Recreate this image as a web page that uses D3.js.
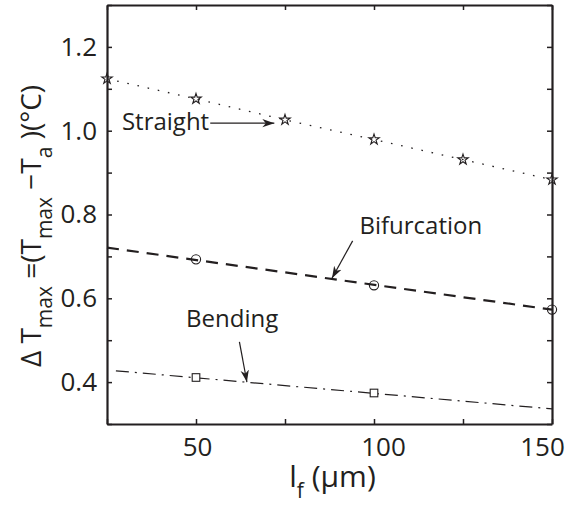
<!DOCTYPE html>
<meta charset="utf-8">
<title>Delta Tmax vs lf</title>
<style>
  body { margin: 0; background: #fff; }
  text { font-family: "Open Sans", sans-serif; fill: #231f20; }
</style>
<svg width="571" height="520"></svg>
<script src="https://d3js.org/d3.v7.min.js"></script>
<script>

// ---- data ----
var xTicks = [25, 50, 75, 100, 125, 150];
var xLabeled = [50, 100, 150];
var xLabelNudge = [1, 9, -10];   // the original's labels sit a little off their ticks
var yTicks = [0.3, 0.4, 0.5, 0.6, 0.7, 0.8, 0.9, 1.0, 1.1, 1.2, 1.3];
var yLabeled = [0.4, 0.6, 0.8, 1.0, 1.2];

// straight: markers at every point, dotted line through them
var straightX = [25, 50, 75, 100, 125, 150];
var straightY = [1.124, 1.076, 1.026, 0.979, 0.931, 0.883];

// bifurcation: circles + dashed fit line
var bifX = [50, 100, 150];
var bifY = [0.693, 0.631, 0.573];
var bifLineX = [25, 150];
var bifLineY = [0.721, 0.573];

// bending: squares + dash-dot fit line
var bendX = [50, 100];
var bendY = [0.411, 0.374];
var bendLineX = [27.5, 150];
var bendLineY = [0.427, 0.336];

// annotations (data units): label anchor, arrow start, arrow tip
var notes = [
  { name: "Straight",    tx: 29.2, ty: 1.002, x1: 54.0, y1: 1.018, x2: 72.0, y2: 1.018 },
  { name: "Bifurcation", tx: 95.9, ty: 0.753, x1: 94.0, y1: 0.737, x2: 88.2, y2: 0.648 },
  { name: "Bending",     tx: 47.2, ty: 0.531, x1: 62.2, y1: 0.496, x2: 64.3, y2: 0.400 }
];

var svg = d3.select("svg");
var ink = "#231f20";

var margin = { left: 107, right: 19, top: 5, bottom: 96 };
var width = 571 - margin.left - margin.right;
var height = 520 - margin.top - margin.bottom;

var x = d3.scaleLinear().domain([25, 150]).range([0, width]);
var y = d3.scaleLinear().domain([0.3, 1.3]).range([height, 0]);

var g = svg.append("g").attr("transform", "translate(" + margin.left + "," + margin.top + ")");

var defs = svg.append("defs");
defs.append("marker")
    .attr("id", "arrow")
    .attr("viewBox", "-12 -5 13 10")
    .attr("refX", 0).attr("refY", 0)
    .attr("markerWidth", 13).attr("markerHeight", 10)
    .attr("markerUnits", "userSpaceOnUse")
    .attr("orient", "auto")
    .append("path")
    .attr("d", "M0,0 L-12,-4.2 L-8.5,0 L-12,4.2 Z")
    .attr("fill", ink);

function zip(xs, ys) {
    return xs.map(function(v, i) { return [v, ys[i]]; });
}

var line = d3.line()
    .x(function(d) { return x(d[0]); })
    .y(function(d) { return y(d[1]); });

// lines
g.append("path")
    .attr("d", line(zip(straightX, straightY)))
    .attr("fill", "none").attr("stroke", ink)
    .attr("stroke-width", 1.3)
    .attr("stroke-dasharray", "1.6,8.8");

g.append("path")
    .attr("d", line(zip(bifLineX, bifLineY)))
    .attr("fill", "none").attr("stroke", ink)
    .attr("stroke-width", 2.2)
    .attr("stroke-dasharray", "12,8");

g.append("path")
    .attr("d", line(zip(bendLineX, bendLineY)))
    .attr("fill", "none").attr("stroke", ink)
    .attr("stroke-width", 1.2)
    .attr("stroke-dasharray", "13,6,2,6");

// markers
g.selectAll(".star")
    .data(zip(straightX, straightY))
    .enter().append("path")
    .attr("class", "star")
    .attr("transform", function(d) { return "translate(" + x(d[0]) + "," + y(d[1]) + ")"; })
    .attr("d", d3.symbol().type(d3.symbolStar).size(34))
    .attr("fill", "none").attr("stroke", ink).attr("stroke-width", 1.1);

g.selectAll(".circ")
    .data(zip(bifX, bifY))
    .enter().append("circle")
    .attr("class", "circ")
    .attr("cx", function(d) { return x(d[0]); })
    .attr("cy", function(d) { return y(d[1]); })
    .attr("r", 4.6)
    .attr("fill", "none").attr("stroke", ink).attr("stroke-width", 1.1);

g.selectAll(".sq")
    .data(zip(bendX, bendY))
    .enter().append("rect")
    .attr("class", "sq")
    .attr("x", function(d) { return x(d[0]) - 3.8; })
    .attr("y", function(d) { return y(d[1]) - 3.8; })
    .attr("width", 7.6).attr("height", 7.6)
    .attr("fill", "#fff").attr("stroke", ink).attr("stroke-width", 1.1);

// annotations
notes.forEach(function(n) {
    g.append("text")
        .attr("x", x(n.tx)).attr("y", y(n.ty))
        .style("font-size", "24px")
        .text(n.name);
    g.append("line")
        .attr("x1", x(n.x1)).attr("y1", y(n.y1))
        .attr("x2", x(n.x2)).attr("y2", y(n.y2))
        .attr("stroke", ink).attr("stroke-width", 1.2)
        .attr("marker-end", "url(#arrow)");
});

// axes (MATLAB style box, ticks inward)
function fmtX(d) { return xLabeled.indexOf(d) >= 0 ? d : ""; }
function fmtY(d) {
    return yLabeled.some(function(v) { return Math.abs(v - d) < 1e-9; }) ? d3.format(".1f")(d) : "";
}

var xb = g.append("g").attr("transform", "translate(0," + height + ")")
    .call(d3.axisBottom(x).tickValues(xTicks).tickSizeInner(-5).tickSizeOuter(0).tickPadding(14).tickFormat(fmtX));
var xt = g.append("g")
    .call(d3.axisTop(x).tickValues(xTicks).tickSizeInner(-5).tickSizeOuter(0).tickFormat(""));
var yl = g.append("g")
    .call(d3.axisLeft(y).tickValues(yTicks).tickSizeInner(-5).tickSizeOuter(0).tickPadding(10).tickFormat(fmtY));
var yr = g.append("g").attr("transform", "translate(" + width + ",0)")
    .call(d3.axisRight(y).tickValues(yTicks).tickSizeInner(-5).tickSizeOuter(0).tickFormat(""));

[xb, xt, yl, yr].forEach(function(a) {
    a.select(".domain").attr("stroke", ink).attr("stroke-width", 2.2);
    a.selectAll(".tick line").attr("stroke", ink).attr("stroke-width", 1.5);
    a.selectAll(".tick text")
        .style("font-family", "'Open Sans', sans-serif")
        .style("font-size", "26px")
        .attr("fill", ink);
});

xb.selectAll(".tick text").attr("dx", function(d) {
    var i = xLabeled.indexOf(d);
    return i >= 0 ? xLabelNudge[i] : 0;
});

// axis titles
var xt2 = svg.append("text")
    .attr("x", margin.left + width / 2 + 3)
    .attr("y", 487)
    .attr("text-anchor", "middle")
    .style("font-size", "30px");
xt2.append("tspan").text("l");
xt2.append("tspan").attr("dy", 11).style("font-size", "21px").text("f");
xt2.append("tspan").attr("dy", -11).text(" (\u03bcm)");

var yt = svg.append("text")
    .attr("transform", "translate(41,226) rotate(-90)")
    .attr("text-anchor", "middle")
    .style("font-size", "28px");
yt.append("tspan").text("\u0394 T");
yt.append("tspan").attr("dy", 11).style("font-size", "21px").text("max");
yt.append("tspan").attr("dy", -11).text(" =(T");
yt.append("tspan").attr("dy", 11).style("font-size", "21px").text("max");
yt.append("tspan").attr("dy", -11).text(" \u2212T");
yt.append("tspan").attr("dy", 11).style("font-size", "21px").text("a");
yt.append("tspan").attr("dy", -11).text(" )(\u00b0C)");

</script>
